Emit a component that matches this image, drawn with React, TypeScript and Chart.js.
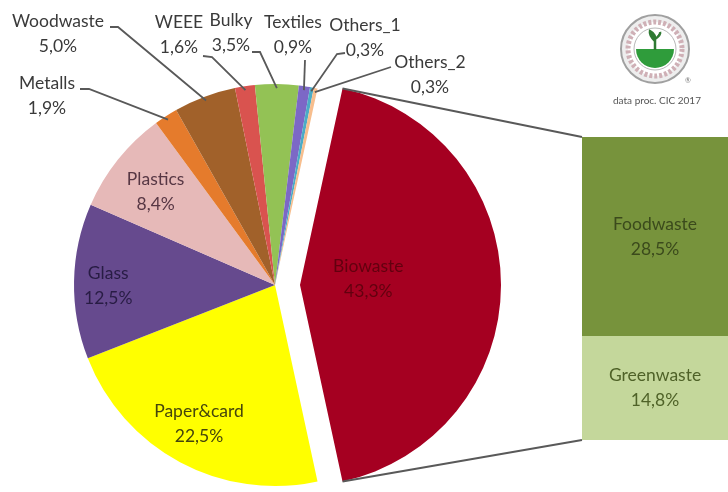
import React, { useEffect, useRef } from "react";
import { Chart, registerables } from "chart.js";

Chart.register(...registerables);

// ---- data ----
const categories = ["Biowaste", "Paper&card", "Glass", "Plastics", "Metalls", "Woodwaste", "WEEE", "Bulky", "Textiles", "Others_1", "Others_2"];
const shares = [43.3, 22.5, 12.5, 8.4, 1.9, 5.0, 1.6, 3.5, 0.9, 0.3, 0.3];
const sliceColors = ["#A50021", "#FFFF00", "#664A8E", "#E6B9B8", "#E57B2C", "#A1612A", "#D9534F", "#93C255", "#7C68C6", "#4BACC6", "#F7BE8E"];

const biowasteParts = ["Greenwaste", "Foodwaste"]; // bottom to top
const biowasteValues = [14.8, 28.5];
const partColors = ["#C4D79B", "#77933C"];
const partTextColors = ["#4f6228", "#3b4a1c"];

const fmt = (v: number) => v.toFixed(1).replace(".", ",") + "%";

// ---- layout (not data) ----
const FONT = "17.5px Lato";
const LINE_GAP = 25;
const explodeOffsets = [25, 0, 0, 0, 0, 0, 0, 0, 0, 0, 0];
const insideLabels: Record<string, { r: number; dy: number; color: string }> = {
  Biowaste: { r: 0.34, dy: -6, color: "#62000f" },
  "Paper&card": { r: 0.8, dy: -3, color: "#45450c" },
  Glass: { r: 0.83, dy: 4, color: "#281c44" },
  Plastics: { r: 0.76, dy: 2, color: "#573744" },
};
const outsideLabels: Record<string, { x: number; y: number; leader: number[][] }> = {
  Woodwaste: { x: 58, y: 21, leader: [[110, 27], [118, 27]] },
  Metalls: { x: 47, y: 83, leader: [[80, 89], [89, 89]] },
  WEEE: { x: 179, y: 22, leader: [[203, 56], [212, 57]] },
  Bulky: { x: 231, y: 20, leader: [[252, 52], [260, 52]] },
  Textiles: { x: 293, y: 22, leader: [[305, 60]] },
  Others_1: { x: 365, y: 25, leader: [[345, 53], [337, 54]] },
  Others_2: { x: 430, y: 62, leader: [[391, 67]] },
};

export default function App() {
  const pieRef = useRef<HTMLCanvasElement>(null);
  const barRef = useRef<HTMLCanvasElement>(null);

  useEffect(() => {
    const pieCanvas = pieRef.current!;
    const barCanvas = barRef.current!;
    const barTotal = biowasteValues.reduce((a, b) => a + b, 0);

    const barLabelPlugin = {
      id: "barLabels",
      afterDatasetsDraw(chart: any) {
        const ctx = chart.ctx;
        ctx.save();
        ctx.font = FONT;
        ctx.textAlign = "center";
        ctx.textBaseline = "middle";
        chart.data.datasets.forEach((ds: any, i: number) => {
          const el = chart.getDatasetMeta(i).data[0];
          const cy = (el.y + el.base) / 2;
          ctx.fillStyle = partTextColors[i];
          ctx.fillText(ds.label, el.x, cy - LINE_GAP / 2);
          ctx.fillText(fmt(ds.data[0]), el.x, cy + LINE_GAP / 2);
        });
        ctx.restore();
      },
    };

    const barChart = new Chart(barCanvas, {
      type: "bar",
      data: {
        labels: ["Biowaste"],
        datasets: biowasteParts.map((p, i) => ({
          label: p,
          data: [biowasteValues[i]],
          backgroundColor: partColors[i],
          borderWidth: 0,
          barPercentage: 1,
          categoryPercentage: 1,
        })),
      },
      options: {
        responsive: false,
        animation: false,
        devicePixelRatio: 1,
        events: [],
        layout: { padding: 0 },
        scales: {
          x: { display: false, stacked: true },
          y: { display: false, stacked: true, min: 0, max: barTotal },
        },
        plugins: { legend: { display: false }, tooltip: { enabled: false } },
      },
      plugins: [barLabelPlugin],
    } as any);

    const total = shares.reduce((a, b) => a + b, 0);
    const rotation = 90 - (shares[0] / total) * 180;

    const explodePlugin = {
      id: "explode",
      beforeDatasetsDraw(chart: any) {
        const ca = chart.chartArea;
        const cx = (ca.left + ca.right) / 2;
        const cy = (ca.top + ca.bottom) / 2;
        chart.getDatasetMeta(0).data.forEach((arc: any, i: number) => {
          const mid = (arc.startAngle + arc.endAngle) / 2;
          arc.x = cx + explodeOffsets[i] * Math.cos(mid);
          arc.y = cy + explodeOffsets[i] * Math.sin(mid);
        });
      },
    };

    const pieLabelPlugin = {
      id: "pieLabels",
      afterDatasetsDraw(chart: any) {
        const ctx = chart.ctx;
        const arcs = chart.getDatasetMeta(0).data;
        ctx.save();
        // connectors to the bar
        const a0 = arcs[0];
        const R0 = a0.outerRadius;
        const food = barChart.getDatasetMeta(1).data[0] as any;
        const green = barChart.getDatasetMeta(0).data[0] as any;
        const ox = barCanvas.offsetLeft - pieCanvas.offsetLeft;
        const oy = barCanvas.offsetTop - pieCanvas.offsetTop;
        ctx.strokeStyle = "#595959";
        ctx.lineWidth = 2;
        ctx.beginPath();
        ctx.moveTo(a0.x + R0 * Math.cos(a0.startAngle), a0.y + R0 * Math.sin(a0.startAngle));
        ctx.lineTo(ox + food.x - food.width / 2, oy + food.y);
        ctx.moveTo(a0.x + R0 * Math.cos(a0.endAngle), a0.y + R0 * Math.sin(a0.endAngle));
        ctx.lineTo(ox + green.x - green.width / 2, oy + green.base);
        ctx.stroke();

        ctx.font = FONT;
        ctx.textAlign = "center";
        ctx.textBaseline = "middle";
        categories.forEach((name, i) => {
          const arc = arcs[i];
          const mid = (arc.startAngle + arc.endAngle) / 2;
          const R = arc.outerRadius;
          const inside = insideLabels[name];
          if (inside) {
            const x = arc.x + inside.r * R * Math.cos(mid);
            const y = arc.y + inside.r * R * Math.sin(mid) + inside.dy;
            ctx.fillStyle = inside.color;
            ctx.fillText(name, x, y - LINE_GAP / 2);
            ctx.fillText(fmt(shares[i]), x, y + LINE_GAP / 2);
            return;
          }
          const out = outsideLabels[name];
          if (!out) return;
          ctx.fillStyle = "#3a3a3a";
          ctx.fillText(name, out.x, out.y);
          ctx.fillText(fmt(shares[i]), out.x, out.y + LINE_GAP);
          ctx.strokeStyle = "#595959";
          ctx.lineWidth = 1.8;
          ctx.beginPath();
          out.leader.forEach((p, k) => (k === 0 ? ctx.moveTo(p[0], p[1]) : ctx.lineTo(p[0], p[1])));
          ctx.lineTo(arc.x + (R - 4) * Math.cos(mid), arc.y + (R - 4) * Math.sin(mid));
          ctx.stroke();
        });
        ctx.restore();
      },
    };

    const pieChart = new Chart(pieCanvas, {
      type: "pie",
      data: {
        labels: categories,
        datasets: [
          {
            data: shares,
            backgroundColor: sliceColors,
            borderWidth: 0,
            radius: 201,
            rotation,
          },
        ],
      },
      options: {
        responsive: false,
        animation: false,
        devicePixelRatio: 1,
        events: [],
        layout: { padding: { left: 0, right: 178, top: 78, bottom: 0 } },
        plugins: { legend: { display: false }, tooltip: { enabled: false } },
      },
      plugins: [explodePlugin, pieLabelPlugin],
    } as any);

    return () => {
      pieChart.destroy();
      barChart.destroy();
    };
  }, []);

  return (
    <div style={{ position: "fixed", left: 0, top: 0, width: 728, height: 492, background: "#fff", overflow: "hidden" }}>
      <canvas ref={pieRef} width={728} height={492} style={{ position: "absolute", left: 0, top: 0 }} />
      <canvas ref={barRef} width={146} height={303} style={{ position: "absolute", left: 582, top: 137 }} />
      <svg width={80} height={80} viewBox="0 0 80 80" style={{ position: "absolute", left: 615, top: 9 }}>
        <circle cx={40} cy={40} r={34} fill="#eeeeee" stroke="#a0a0a0" strokeWidth={2} />
        <circle cx={40} cy={40} r={27} fill="#fff" stroke="#cfb0b6" strokeWidth={5} strokeDasharray="3 2" />
        <circle cx={40} cy={40} r={21} fill="#fff" stroke="#b8b8b8" strokeWidth={1} />
        <path d="M21 40 A19 19 0 0 0 59 40 Z" fill="#2f9c3b" />
        <path d="M40 41 L40 28 M40 32 Q34 26 35 22 Q41 25 40 32 M40 30 Q46 26 45 23" stroke="#2f7a33" strokeWidth={2.5} fill="#2f7a33" />
        <text x={70} y={74} fontSize={7} fill="#777" fontFamily="Lato">®</text>
      </svg>
      <div style={{ position: "absolute", left: 600, top: 94, width: 114, textAlign: "center", font: "10px Lato", color: "#555" }}>
        data proc. CIC 2017
      </div>
    </div>
  );
}
